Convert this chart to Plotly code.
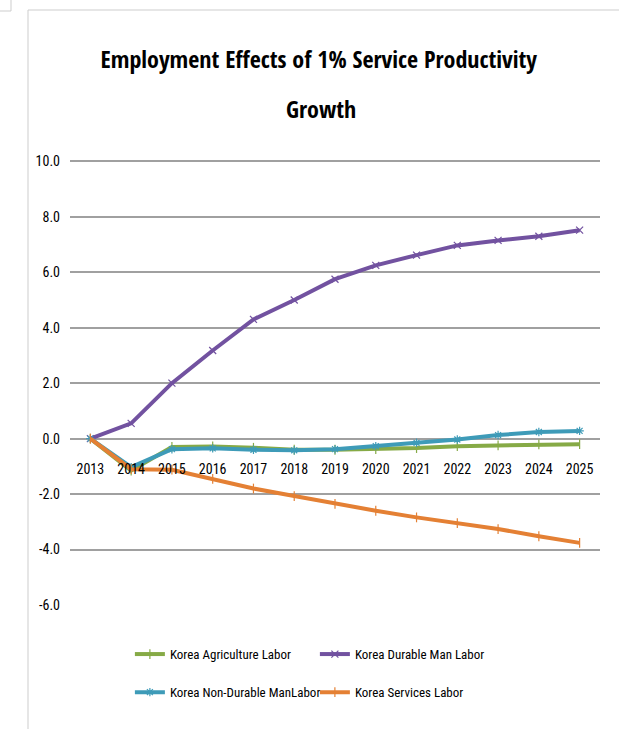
import plotly.graph_objects as go

years = list(range(2013, 2026))
y_ticks = [10, 8, 6, 4, 2, 0, -2, -4, -6]

agriculture = [0.0, -1.15, -0.30, -0.28, -0.33, -0.40, -0.40, -0.38, -0.34, -0.27, -0.24, -0.21, -0.20]
durable_man = [0.0, 0.55, 2.00, 3.18, 4.30, 5.00, 5.75, 6.25, 6.62, 6.97, 7.15, 7.30, 7.52]
non_durable = [0.0, -1.03, -0.38, -0.35, -0.40, -0.42, -0.38, -0.27, -0.15, -0.03, 0.13, 0.24, 0.28]
services = [0.0, -1.10, -1.12, -1.45, -1.80, -2.07, -2.35, -2.60, -2.84, -3.05, -3.26, -3.52, -3.76]

# name, values, colour, marker symbol, legend row
series = [
    ("Korea Agriculture Labor", agriculture, "rgb(134,170,70)", "line-ns-open", "legend"),
    ("Korea Durable Man Labor", durable_man, "rgb(114,82,160)", "x-thin-open", "legend"),
    ("Korea Non-Durable ManLabor", non_durable, "rgb(62,155,184)", "asterisk-open", "legend2"),
    ("Korea Services Labor", services, "rgb(228,128,52)", "line-ns-open", "legend2"),
]

TITLE_FONT = "Open Sans Condensed, Roboto Condensed, sans-serif"
TEXT_FONT = "Roboto Condensed, Open Sans Condensed, sans-serif"

fig = go.Figure()
for name, vals, color, sym, leg in series:
    fig.add_trace(go.Scatter(
        x=years, y=vals, name=name, mode="lines+markers", legend=leg,
        line=dict(color=color, width=4),
        marker=dict(symbol=sym, size=7, color=color, line=dict(color=color, width=1.2)),
    ))

legend_style = dict(
    orientation="h", x=0.113, xanchor="left", yanchor="middle",
    entrywidth=140, entrywidthmode="pixels", itemwidth=30,
    font=dict(family=TEXT_FONT, size=13, color="black"),
    bgcolor="rgba(0,0,0,0)",
)

fig.update_layout(
    width=619, height=729,
    paper_bgcolor="white", plot_bgcolor="white",
    margin=dict(l=70, r=19, t=160, b=124),
    title=dict(
        text="<b>Employment Effects of 1% Service Productivity</b>",
        x=0.515, xanchor="center", y=1 - 60 / 729, yanchor="middle",
        font=dict(family=TITLE_FONT, size=24, color="black"),
    ),
    font=dict(family=TEXT_FONT, color="black"),
    showlegend=True,
    legend=dict(legend_style, y=(605 - 654) / 444),
    legend2=dict(legend_style, y=(605 - 692) / 444),
    xaxis=dict(
        range=[2012.5, 2025.5], tickmode="array", tickvals=years,
        ticktext=[str(y) for y in years],
        showgrid=False, zeroline=False, showline=False, ticks="",
        anchor="free", position=6 / 16.05,
        tickfont=dict(family=TEXT_FONT, size=14, color="black"),
        ticklabelstandoff=20,
    ),
    yaxis=dict(
        range=[-6, 10.05], tickmode="array", tickvals=y_ticks,
        ticktext=[f"{v:.1f}" for v in y_ticks],
        showgrid=True, gridcolor="rgb(160,160,160)", gridwidth=2,
        zeroline=True, zerolinecolor="rgb(160,160,160)", zerolinewidth=2,
        showline=False, ticks="",
        tickfont=dict(family=TEXT_FONT, size=14, color="black"),
        ticklabelstandoff=9,
    ),
)

# second title line
fig.add_annotation(
    text="<b>Growth</b>", xref="paper", yref="paper",
    x=(321 - 70) / 530, y=(605 - 108) / 445, xanchor="center", yanchor="middle",
    showarrow=False, font=dict(family=TITLE_FONT, size=24, color="black"),
)

# Frame edges around the chart sheet
px_x = lambda p: (p - 70) / 530
px_y = lambda p: (605 - p) / 445
frame = dict(color="rgb(205,205,205)", width=1)
fig.add_shape(type="line", xref="paper", yref="paper",
              x0=px_x(28), x1=px_x(28), y0=px_y(729), y1=px_y(10), line=frame)
fig.add_shape(type="line", xref="paper", yref="paper",
              x0=px_x(28), x1=px_x(619), y0=px_y(10), y1=px_y(10), line=frame)
fig.add_shape(type="line", xref="paper", yref="paper",
              x0=px_x(0), x1=px_x(11), y0=px_y(11), y1=px_y(11), line=frame)
fig.add_shape(type="line", xref="paper", yref="paper",
              x0=px_x(11), x1=px_x(11), y0=px_y(0), y1=px_y(11), line=frame)

fig.write_html("out.html")
